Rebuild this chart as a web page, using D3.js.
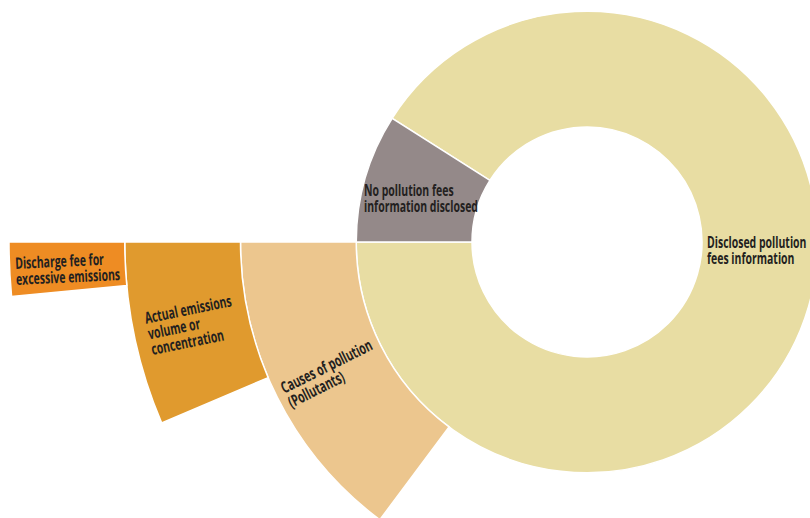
<!DOCTYPE html>
<html>
<head>
<meta charset="utf-8">
<script src="https://cdn.jsdelivr.net/npm/d3@7"></script>
<style>
  html, body { margin: 0; padding: 0; background: #ffffff; }
  svg { display: block; }
  text { font-family: "Open Sans", "Noto Sans", sans-serif; font-weight: 700; font-size: 16px; fill: #231f20; }
</style>
</head>
<body>
<svg id="chart" width="810" height="518"></svg>
<script>
// Share of companies disclosing pollution-fee information (percent of total)
const mainCategories = ["Disclosed pollution fees information", "No pollution fees information disclosed"];
const mainValues = [91, 9];
const mainLabelLines = [["Disclosed pollution", "fees information"], ["No pollution fees", "information disclosed"]];
const mainColors = ["#e8dda3", "#948989"];

// Breakdown of what the disclosed information covers (percent of total)
const detailCategories = ["Causes of pollution (Pollutants)", "Actual emissions volume or concentration", "Discharge fee for excessive emissions"];
const detailValues = [14.8, 6.4, 1.5];
const detailLabelLines = [["Causes of pollution", "(Pollutants)"], ["Actual emissions", "volume or", "concentration"], ["Discharge fee for", "excessive emissions"]];
const detailColors = ["#ecc68e", "#e09a2e", "#ee8c23"];

const svg = d3.select("#chart");
const cx = 587, cy = 242;
const g = svg.append("g").attr("transform", `translate(${cx},${cy})`);

// ring index -> radius; ring 0 is the donut, rings 1..3 the detail sectors
const radius = d3.scaleLinear().domain([0, 4]).range([115, 578]);
// percent -> angle
const angle = d3.scaleLinear().domain([0, 100]).range([0, 2 * Math.PI]);

const left = 1.5 * Math.PI;           // 9 o'clock
const arc = d3.arc();
const lineH = 16;
const narrow = 0.655;                  // horizontal squeeze for a condensed look

// main donut: "no disclosure" runs clockwise up from 9 o'clock, the rest fills the ring
const noAngle = angle(mainValues[1]);
const mainArcs = [
  { i: 0, startAngle: -Math.PI / 2 + noAngle, endAngle: left },
  { i: 1, startAngle: -Math.PI / 2, endAngle: -Math.PI / 2 + noAngle }
].map(d => Object.assign(d, { innerRadius: radius(0), outerRadius: radius(1) }));

g.selectAll("path.main").data(mainArcs).join("path")
  .attr("class", "main")
  .attr("d", arc)
  .attr("fill", d => mainColors[d.i])
  .attr("stroke", "#ffffff")
  .attr("stroke-width", 1.5);

// detail sectors: each one a ring further out, opening counter-clockwise below 9 o'clock
const detailArcs = detailValues.map((v, i) => ({
  i,
  innerRadius: radius(i + 1),
  outerRadius: radius(i + 2),
  startAngle: left - angle(v),
  endAngle: left
}));

g.selectAll("path.detail").data(detailArcs).join("path")
  .attr("class", "detail")
  .attr("d", arc)
  .attr("fill", d => detailColors[d.i])
  .attr("stroke", "#ffffff")
  .attr("stroke-width", 1.5);

// write a left-aligned block of condensed lines, optionally centred on the group origin
function block(sel, lines, dyShift, centred) {
  const t = sel.append("text").attr("transform", `scale(${narrow},1)`);
  const n = lines.length;
  lines.forEach((s, k) => {
    t.append("tspan").attr("x", 0).attr("y", (k - (n - 1) / 2) * lineH + dyShift).text(s);
  });
  if (centred) {
    const w = d3.max(t.selectAll("tspan").nodes(), n => n.getComputedTextLength());
    t.selectAll("tspan").attr("x", -w / 2);
  }
  return t;
}

// detail labels run radially toward the centre
detailArcs.forEach(d => {
  const m = (d.startAngle + d.endAngle) / 2;
  const r = (d.innerRadius + d.outerRadius) / 2;
  const x = r * Math.sin(m), y = -r * Math.cos(m);
  const rot = Math.atan2(Math.cos(m), -Math.sin(m)) * 180 / Math.PI;
  const lg = g.append("g").attr("transform", `translate(${x},${y}) rotate(${rot})`);
  block(lg, detailLabelLines[d.i], 8, true);
});

// "no disclosure" label at the centroid of its slice
{
  const [x, y] = arc.centroid(mainArcs[1]);
  const lg = g.append("g").attr("transform", `translate(${x},${y})`);
  block(lg, mainLabelLines[1], 10.5, true);
}

// "disclosed" label just outside the hole, on the right
{
  const lg = g.append("g").attr("transform", `translate(${radius(0) + 5},${6})`);
  block(lg, mainLabelLines[0], 8, false);
}
</script>
</body>
</html>
